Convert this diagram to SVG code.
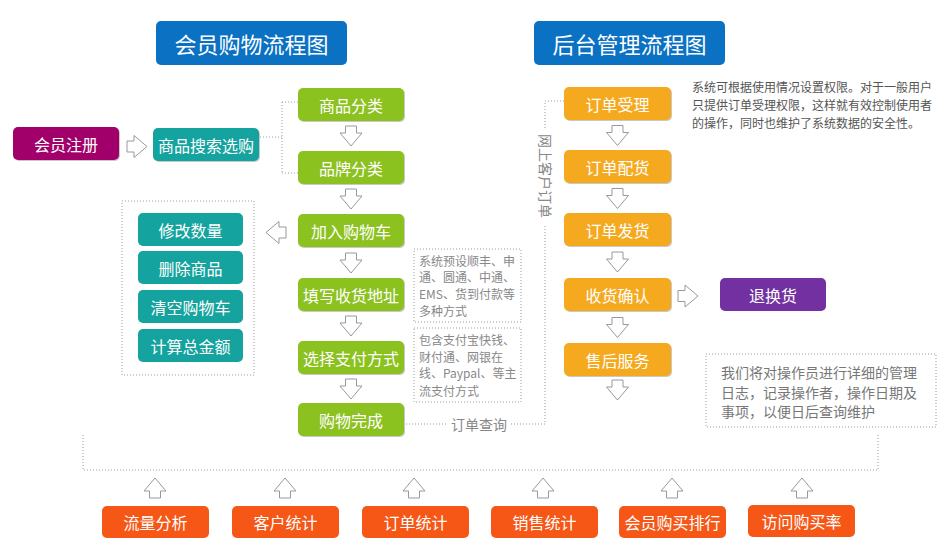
<svg xmlns="http://www.w3.org/2000/svg" xmlns:xlink="http://www.w3.org/1999/xlink" width="947" height="554" viewBox="0 0 947 554">
<defs>
<style>
text{font-family:"Noto Sans CJK SC","Noto Sans",sans-serif}
.lbl{fill:#fff;font-size:16px;text-anchor:middle;dominant-baseline:central}
.ttl{fill:#fff;font-size:22px;text-anchor:middle;dominant-baseline:central}
.note{fill:#888;font-size:12px}
.note2{fill:#555;font-size:12px}
.note3{fill:#777;font-size:14px}
.gray{fill:#888;font-size:14px}
.dot{fill:none;stroke:#9a9a9a;stroke-width:1;stroke-dasharray:1 2}
.arr{fill:#fff;stroke:#999;stroke-width:1}
.blue{fill:#0a71c3}
.mag{fill:#a1006b}
.teal{fill:#14a39e}
.green{fill:#8cc220}
.orange{fill:#f5a91f}
.purple{fill:#7230a0}
.red{fill:#f65616}
.sh{fill:#c8c8c8}
</style>
<polygon id="down" class="arr" points="-5.5,-10 5.5,-10 5.5,-3 11,-3 0,10 -11,-3 -5.5,-3"/>
</defs>
<rect width="947" height="554" fill="#fff"/>

<g id="connectors">
<path class="dot" d="M260,137 H282 M282,102 V173 M282,102 H298 M282,173 H298"/>
<path class="dot" d="M406,424 H447 M511,424 H545 V226 M545,128 V101 H564"/>
<path class="dot" d="M122,201 H254 V375 H122 Z"/>
<path class="dot" d="M414,249 H521 V322 H414 Z"/>
<path class="dot" d="M414,328 H521 V402 H414 Z"/>
<path class="dot" d="M706,354 H936 V427 H706 Z"/>
<path class="dot" d="M83,435 V470 H878 V435"/>
<use xlink:href="#down" transform="translate(137,146.5) rotate(-90)"/>
<use xlink:href="#down" transform="translate(351,136)"/>
<use xlink:href="#down" transform="translate(351,199)"/>
<use xlink:href="#down" transform="translate(351,263)"/>
<use xlink:href="#down" transform="translate(351,326)"/>
<use xlink:href="#down" transform="translate(351,389)"/>
<use xlink:href="#down" transform="translate(276,232.5) rotate(90)"/>
<use xlink:href="#down" transform="translate(617.5,135.5)"/>
<use xlink:href="#down" transform="translate(617.5,198.5)"/>
<use xlink:href="#down" transform="translate(617.5,262)"/>
<use xlink:href="#down" transform="translate(617.5,327.5)"/>
<use xlink:href="#down" transform="translate(617.5,390)"/>
<use xlink:href="#down" transform="translate(688,296) rotate(-90)"/>
<use xlink:href="#down" transform="translate(155,488) rotate(180)"/>
<use xlink:href="#down" transform="translate(285,488) rotate(180)"/>
<use xlink:href="#down" transform="translate(414,488) rotate(180)"/>
<use xlink:href="#down" transform="translate(543,488) rotate(180)"/>
<use xlink:href="#down" transform="translate(672,488) rotate(180)"/>
<use xlink:href="#down" transform="translate(802,488) rotate(180)"/>
<text class="gray" x="479" y="424" text-anchor="middle" dominant-baseline="central">订单查询</text>
<text class="gray" x="0" y="0" text-anchor="middle" dominant-baseline="central" transform="translate(546,176) rotate(90)">网上客户订单</text>
</g>

<g id="title-left"><rect class="blue" x="156" y="21" width="191" height="44" rx="5"/><text class="ttl" x="251.5" y="43">会员购物流程图</text></g>
<g id="title-right"><rect class="blue" x="534" y="21" width="191" height="44" rx="5"/><text class="ttl" x="629.5" y="43">后台管理流程图</text></g>

<g id="n-register"><rect class="sh" x="14" y="128" width="106" height="33" rx="5"/><rect class="mag" x="13" y="127" width="106" height="33" rx="5"/><text class="lbl" x="66" y="143.5">会员注册</text></g>
<g id="n-search"><rect class="sh" x="154" y="129" width="106" height="33" rx="5"/><rect class="teal" x="153" y="128" width="106" height="33" rx="5"/><text class="lbl" x="206" y="144.5">商品搜索选购</text></g>

<g id="n-cat"><rect class="sh" x="299" y="89" width="106" height="33" rx="5"/><rect class="green" x="298" y="88" width="106" height="33" rx="5"/><text class="lbl" x="351" y="104.5">商品分类</text></g>
<g id="n-brand"><rect class="sh" x="299" y="152" width="106" height="33" rx="5"/><rect class="green" x="298" y="151" width="106" height="33" rx="5"/><text class="lbl" x="351" y="167.5">品牌分类</text></g>
<g id="n-cart"><rect class="sh" x="299" y="215" width="106" height="33" rx="5"/><rect class="green" x="298" y="214" width="106" height="33" rx="5"/><text class="lbl" x="351" y="230.5">加入购物车</text></g>
<g id="n-addr"><rect class="sh" x="299" y="279" width="106" height="33" rx="5"/><rect class="green" x="298" y="278" width="106" height="33" rx="5"/><text class="lbl" x="351" y="294.5">填写收货地址</text></g>
<g id="n-pay"><rect class="sh" x="299" y="342" width="106" height="33" rx="5"/><rect class="green" x="298" y="341" width="106" height="33" rx="5"/><text class="lbl" x="351" y="357.5">选择支付方式</text></g>
<g id="n-done"><rect class="sh" x="299" y="404" width="106" height="33" rx="5"/><rect class="green" x="298" y="403" width="106" height="33" rx="5"/><text class="lbl" x="351" y="419.5">购物完成</text></g>

<g id="n-qty"><rect class="teal" x="138" y="213" width="105" height="33" rx="5"/><text class="lbl" x="190.5" y="229.5">修改数量</text></g>
<g id="n-del"><rect class="teal" x="138" y="251" width="105" height="33" rx="5"/><text class="lbl" x="190.5" y="267.5">删除商品</text></g>
<g id="n-clear"><rect class="teal" x="138" y="290" width="105" height="33" rx="5"/><text class="lbl" x="190.5" y="306.5">清空购物车</text></g>
<g id="n-total"><rect class="teal" x="138" y="329" width="105" height="33" rx="5"/><text class="lbl" x="190.5" y="345.5">计算总金额</text></g>

<g id="note-ship">
<text class="note" x="419" y="266">系统预设顺丰、申</text>
<text class="note" x="419" y="282">通、圆通、中通、</text>
<text class="note" x="419" y="299">EMS、货到付款等</text>
<text class="note" x="419" y="316">多种方式</text>
</g>
<g id="note-pay">
<text class="note" x="419" y="345">包含支付宝快钱、</text>
<text class="note" x="419" y="362">财付通、网银在</text>
<text class="note" x="419" y="378">线、Paypal、等主</text>
<text class="note" x="419" y="396">流支付方式</text>
</g>

<g id="n-accept"><rect class="sh" x="565" y="88" width="107" height="33" rx="5"/><rect class="orange" x="564" y="87" width="107" height="33" rx="5"/><text class="lbl" x="617.5" y="103.5">订单受理</text></g>
<g id="n-pick"><rect class="sh" x="565" y="151" width="107" height="33" rx="5"/><rect class="orange" x="564" y="150" width="107" height="33" rx="5"/><text class="lbl" x="617.5" y="166.5">订单配货</text></g>
<g id="n-ship"><rect class="sh" x="565" y="214" width="107" height="33" rx="5"/><rect class="orange" x="564" y="213" width="107" height="33" rx="5"/><text class="lbl" x="617.5" y="229.5">订单发货</text></g>
<g id="n-confirm"><rect class="sh" x="565" y="279" width="107" height="33" rx="5"/><rect class="orange" x="564" y="278" width="107" height="33" rx="5"/><text class="lbl" x="617.5" y="294.5">收货确认</text></g>
<g id="n-after"><rect class="sh" x="565" y="344" width="107" height="33" rx="5"/><rect class="orange" x="564" y="343" width="107" height="33" rx="5"/><text class="lbl" x="617.5" y="359.5">售后服务</text></g>
<g id="n-return"><rect class="purple" x="720" y="278" width="106" height="33" rx="5"/><text class="lbl" x="773" y="294.5">退换货</text></g>

<g id="note-perm">
<text class="note2" x="692" y="92">系统可根据使用情况设置权限。对于一般用户</text>
<text class="note2" x="692" y="110">只提供订单受理权限，这样就有效控制使用者</text>
<text class="note2" x="692" y="128">的操作，同时也维护了系统数据的安全性。</text>
</g>
<g id="note-log">
<text class="note3" x="721" y="378">我们将对操作员进行详细的管理</text>
<text class="note3" x="721" y="398">日志，记录操作者，操作日期及</text>
<text class="note3" x="721" y="417">事项，以便日后查询维护</text>
</g>

<g id="n-traffic"><rect class="red" x="102" y="506" width="107" height="32" rx="5"/><text class="lbl" x="155.5" y="522">流量分析</text></g>
<g id="n-cust"><rect class="red" x="232" y="506" width="107" height="32" rx="5"/><text class="lbl" x="285.5" y="522">客户统计</text></g>
<g id="n-orders"><rect class="red" x="362" y="506" width="107" height="32" rx="5"/><text class="lbl" x="415.5" y="522">订单统计</text></g>
<g id="n-sales"><rect class="red" x="491" y="506" width="107" height="32" rx="5"/><text class="lbl" x="544.5" y="522">销售统计</text></g>
<g id="n-rank"><rect class="red" x="619" y="506" width="107" height="32" rx="5"/><text class="lbl" x="672.5" y="522">会员购买排行</text></g>
<g id="n-rate"><rect class="red" x="748" y="505" width="107" height="32" rx="5"/><text class="lbl" x="801.5" y="521">访问购买率</text></g>
</svg>
